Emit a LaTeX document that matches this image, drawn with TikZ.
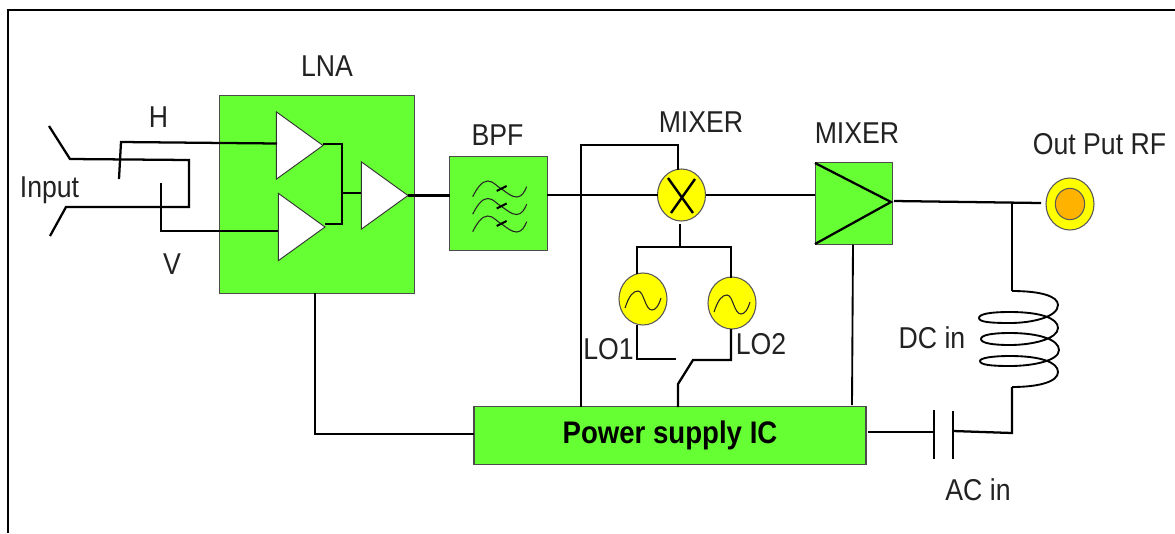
\documentclass[tikz,border=0pt]{standalone}
\usepackage{fontspec}
\setmainfont{Liberation Sans}
\usetikzlibrary{shapes.geometric}
\definecolor{boxgreen}{HTML}{66FF33}
\definecolor{sigyellow}{HTML}{FFFF00}
\definecolor{coreorange}{HTML}{FFB300}
\definecolor{labelink}{HTML}{222222}
\newcommand{\talltext}[1]{\scalebox{1}[1.13]{#1}}
\tikzset{
  wire/.style={draw=black,line width=1.7pt,line join=miter},
  gbox/.style={draw=black!70,line width=0.8pt,fill=boxgreen,inner sep=0pt,outer sep=0pt},
  amp/.style={isosceles triangle,isosceles triangle stretches,draw=black!80,line width=0.7pt,fill=white,
    minimum width=50.5pt,minimum height=35pt,inner sep=0pt,outer sep=0pt,anchor=apex},
  disc/.style={ellipse,draw=black!65,line width=0.8pt,fill=sigyellow,minimum width=36pt,minimum height=39pt,inner sep=0pt,outer sep=0pt},
  lbl/.style={font=\fontsize{20}{22}\selectfont,text=labelink,inner sep=0pt},
  wave/.style={draw=black!85,line width=0.8pt}
}
\begin{document}
\begin{tikzpicture}[x=0.75pt,y=-0.75pt]
\useasboundingbox (0,0) rectangle (1175,533);
\fill[white] (0,0) rectangle (1175,533);
% frame
\coordinate (fa) at (8,533); \coordinate (fb) at (8,10); \coordinate (fc) at (1175,10);
\draw[line width=1.6pt] (fa) -- (fb) -- (fc);
% boxes
\node[gbox,minimum width=146pt,minimum height=148pt] (lna) at (316.7,194.5) {};
\node[gbox,minimum width=73pt,minimum height=70pt] (bpf) at (498.5,203.5) {};
\node[gbox,minimum width=58pt,minimum height=61pt] (mix2) at (853.7,203.5) {};
\node[gbox,minimum width=294pt,minimum height=43pt,font=\bfseries\fontsize{20.7}{22}\selectfont] (psu) at (670,435.5) {\talltext{Power supply IC}};
% discs
\node[disc] (mix1) at (681.5,195) {};
\node[disc] (lo1) at (643,299) {};
\node[disc] (lo2) at (732,303) {};
\node[disc] (out) at (1070,204) {};
\node[ellipse,draw=black!65,line width=0.8pt,fill=coreorange,minimum width=22pt,minimum height=23.5pt,inner sep=0pt] (core) at (out.center) {};
% amplifiers
\node[amp] (t1) at (323,145.5) {};
\node[amp] (t2) at (325,227) {};
\node[amp] (t3) at (408,195.5) {};
% labels
\node[lbl] (tlna) at (327,66) {\talltext{LNA}};
\node[lbl] (th) at (158.5,117) {\talltext{H}};
\node[lbl] (tin) at (49.5,190) {\talltext{Input}};
\node[lbl] (tv) at (172,264) {\talltext{V}};
\node[lbl] (tbpf) at (497.5,135) {\talltext{BPF}};
\node[lbl] (tm1) at (701,122) {\talltext{MIXER}};
\node[lbl] (tm2) at (857,133) {\talltext{MIXER}};
\node[lbl] (tout) at (1099.5,144) {\talltext{Out Put RF}};
\node[lbl] (tlo1) at (608.5,349) {\talltext{LO1}};
\node[lbl] (tlo2) at (761,344) {\talltext{LO2}};
\node[lbl] (tdc) at (932,338) {\talltext{DC in}};
\node[lbl] (tac) at (978,490) {\talltext{AC in}};
% input network
\coordinate (s1) at (49,126); \coordinate (s1b) at (70,159); \coordinate (s1c) at (189,160);
\coordinate (s2c) at (189,207); \coordinate (s2b) at (66,207); \coordinate (s2) at (50,236);
\draw[wire] (s1) -- (s1b) -- (s1c) -- (s2c) -- (s2b) -- (s2);
\coordinate (hs) at (119,179); \coordinate (hb) at (121,142); \coordinate (he) at (277,143.5);
\draw[wire] (hs) -- (hb) -- (he);
\coordinate (vs) at (161,183); \coordinate (vb) at (161,231); \coordinate (ve) at (278,231);
\draw[wire] (vs) -- (vb) -- (ve);
% amp combiner
\coordinate (c1) at (342,144); \coordinate (c2) at (342,224); \coordinate (cx) at (342,193);
\draw[wire] (t1.apex |- c1) -- (c1) -- (c2) -- (t2.apex |- c2);
\draw[wire] (cx) -- (t3.west |- cx);
\draw[wire] (t3.apex) -- (t3.apex -| bpf.west);
% chain
\draw[wire] (bpf.east |- mix1.west) -- (mix1.west);
\draw[wire] (mix1.east) -- (mix2.west |- mix1.east);
% mixer supply
\coordinate (m1a) at (581,145); \coordinate (m1b) at (678,145); \coordinate (m1t) at (678,170);
\draw[wire] (psu.north -| m1a) -- (m1a) -- (m1b) -- (m1t);
% LO
\coordinate (lobar) at (680,247); \coordinate (mbot) at (680,224);
\coordinate (lol) at (637,247); \coordinate (lor) at (731,247);
\coordinate (lolt) at (637,273.5); \coordinate (lort) at (731,277.5);
\draw[wire] (mbot) -- (lobar);
\draw[wire] (lolt) -- (lol) -- (lor) -- (lort);
\coordinate (lolb) at (637,325); \coordinate (lolc) at (637,359); \coordinate (lold) at (676,359);
\draw[wire] (lolb) -- (lolc) -- (lold);
\coordinate (lorb) at (731,329); \coordinate (lorc) at (731,360); \coordinate (lord) at (693,360);
\coordinate (lore) at (678,384); \coordinate (lorf) at (678,407);
\draw[wire] (lorb) -- (lorc) -- (lord) -- (lore) -- (lorf);
% mixer 2 triangle
\coordinate (m2a) at (815,163); \coordinate (m2b) at (891,202); \coordinate (m2c) at (815,244);
\draw[wire] (m2a) -- (m2b) -- (m2c);
\coordinate (m2bot) at (853,244.5); \coordinate (m2low) at (852,405);
\draw[wire,line width=1.4pt] (m2bot) -- (m2low);
% output
\coordinate (o1) at (894,201); \coordinate (o2) at (1041,203); \coordinate (oj) at (1012,202.5);
\coordinate (lt) at (1012,291); \coordinate (lb) at (1012,387);
\draw[wire] (o1) -- (o2);
\draw[wire] (oj) -- (lt);
% coil
\draw[wire,line width=1.4pt] (lt)
 .. controls (1040,291) and (1058,296) .. (1058,305)
 .. controls (1058,317) and (1032,323) .. (1010,323)
 .. controls (990,323) and (979,322) .. (979,318)
 .. controls (979,314) and (990,312) .. (1010,312)
 .. controls (1040,312) and (1058,318) .. (1058,328)
 .. controls (1058,339) and (1032,345) .. (1010,345)
 .. controls (992,345) and (981,343) .. (981,339)
 .. controls (981,335) and (992,333) .. (1010,333)
 .. controls (1040,333) and (1059,340) .. (1059,350)
 .. controls (1059,361) and (1032,366) .. (1010,366)
 .. controls (992,366) and (980,365) .. (980,361)
 .. controls (980,358) and (992,356) .. (1010,356)
 .. controls (1040,356) and (1058,362) .. (1058,372)
 .. controls (1058,382) and (1038,387) .. (lb);
% capacitor
\coordinate (ca) at (934,410); \coordinate (cb) at (934,459);
\coordinate (cc) at (953,411); \coordinate (cd) at (953,459);
\coordinate (cl) at (934,432); \coordinate (cr) at (953,431);
\coordinate (lc) at (1012,433); \coordinate (pr) at (868,432);
\draw[wire,line width=1.4pt] (ca) -- (cb);
\draw[wire,line width=1.4pt] (cc) -- (cd);
\draw[wire] (lb) -- (lc) -- (cr);
\draw[wire] (cl) -- (pr);
% LNA power
\coordinate (lp) at (315,293); \coordinate (lq) at (315,434);
\draw[wire] (lp) -- (lq) -- (lq -| psu.west);
% mixer cross
\coordinate (xa) at (668,178); \coordinate (xb) at (693,213); \coordinate (xc) at (695,179); \coordinate (xd) at (671,213);
\draw[wire,line width=1.8pt] (xa) -- (xb);
\draw[wire,line width=1.8pt] (xc) -- (xd);
% LO sine waves
\foreach \cc in {lo1,lo2}{
  \draw[wave,shift={(\cc)}] (-18,9) .. controls (-14,-3) and (-10,-8) .. (-5,-8) .. controls (1,-8) and (2,11) .. (9,11) .. controls (13,11) and (16,6) .. (18,-1);
}
% BPF waves
\foreach \k in {0,1,2}{
  \draw[wave,shift={(472.7,196.7+17.5*\k)}] (0,0) .. controls (4,-8) and (9,-15.7) .. (15,-15.7) .. controls (21,-15.7) and (24,-10) .. (29,-7.7) .. controls (34,-4) and (39,0.3) .. (44,0.3) .. controls (49,0.3) and (52,-5) .. (54,-10);
  \draw[line width=1.5pt,shift={(472.7,196.7+17.5*\k)}] (24,-5.7) -- (34,-10.7);
}
\end{tikzpicture}
\end{document}
